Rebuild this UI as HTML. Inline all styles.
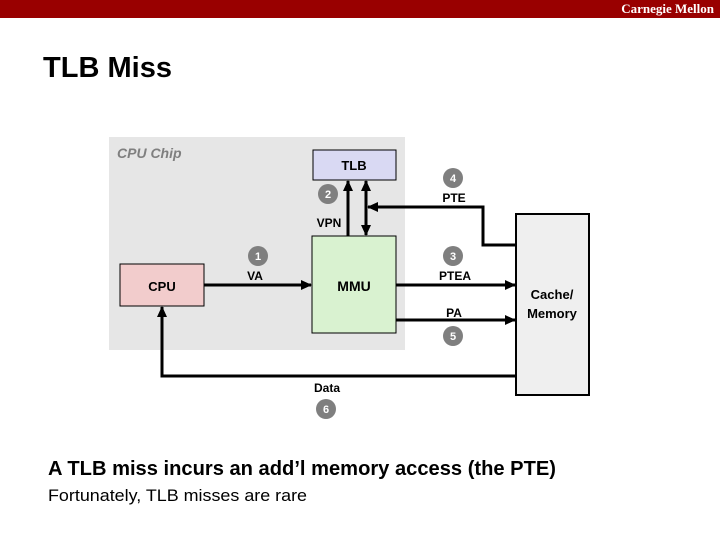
<!DOCTYPE html>
<html><head><meta charset="utf-8"><style>
html,body{margin:0;padding:0;background:#fff;width:720px;height:540px;overflow:hidden}
svg{display:block}
</style></head><body>
<svg width="720" height="540" viewBox="0 0 720 540" xmlns="http://www.w3.org/2000/svg" font-family="Liberation Sans, sans-serif">
<defs>
<marker id="ah" markerWidth="11" markerHeight="10" refX="10" refY="5" orient="auto" markerUnits="userSpaceOnUse">
<path d="M0,0 L11,5 L0,10 z" fill="#000"/>
</marker>
<marker id="ahs" markerWidth="11" markerHeight="10" refX="1" refY="5" orient="auto" markerUnits="userSpaceOnUse">
<path d="M11,0 L0,5 L11,10 z" fill="#000"/>
</marker>
</defs>
<rect x="0" y="0" width="720" height="18" fill="#990000"/>
<text x="714" y="13" style="font-family:'Liberation Serif',serif" font-size="13" font-weight="bold" fill="#fff" text-anchor="end">Carnegie Mellon</text>
<text x="43" y="77" font-size="29" font-weight="bold" textLength="129" lengthAdjust="spacingAndGlyphs">TLB Miss</text>

<rect x="109" y="137" width="296" height="213" fill="#e6e6e6"/>
<text x="117" y="158" font-size="14" font-style="italic" font-weight="bold" fill="#7f7f7f">CPU Chip</text>

<rect x="313" y="150" width="83" height="30" fill="#d9d9f3" stroke="#000" stroke-width="1"/>
<text x="354" y="170" font-size="13" font-weight="bold" text-anchor="middle">TLB</text>
<rect x="312" y="236" width="84" height="97" fill="#d9f2d0" stroke="#000" stroke-width="1"/>
<text x="354" y="291" font-size="14" font-weight="bold" text-anchor="middle">MMU</text>
<rect x="120" y="264" width="84" height="42" fill="#f2cccc" stroke="#000" stroke-width="1"/>
<text x="162" y="291" font-size="13" font-weight="bold" text-anchor="middle">CPU</text>
<rect x="516" y="214" width="73" height="181" fill="#efefef" stroke="#000" stroke-width="2"/>
<text x="552" y="299" font-size="13" font-weight="bold" text-anchor="middle">Cache/</text>
<text x="552" y="318" font-size="13" font-weight="bold" text-anchor="middle">Memory</text>

<g stroke="#000" stroke-width="3" fill="none">
<line x1="204" y1="285" x2="311" y2="285" marker-end="url(#ah)"/>
<line x1="348" y1="236" x2="348" y2="181" marker-end="url(#ah)"/>
<line x1="366" y1="181" x2="366" y2="235" marker-start="url(#ahs)" marker-end="url(#ah)"/>
<polyline points="516,245 483,245 483,207 368,207" marker-end="url(#ah)"/>
<line x1="396" y1="285" x2="515" y2="285" marker-end="url(#ah)"/>
<line x1="396" y1="320" x2="515" y2="320" marker-end="url(#ah)"/>
<polyline points="516,376 162,376 162,307" marker-end="url(#ah)"/>
</g>

<g fill="#7f7f7f">
<circle cx="258" cy="256" r="10"/><circle cx="328" cy="194" r="10"/>
<circle cx="453" cy="256" r="10"/><circle cx="453" cy="178" r="10"/>
<circle cx="453" cy="336" r="10"/><circle cx="326" cy="409" r="10"/>
</g>
<g fill="#fff" font-size="11" font-weight="bold" text-anchor="middle">
<text x="258" y="260">1</text><text x="328" y="198">2</text>
<text x="453" y="260">3</text><text x="453" y="182">4</text>
<text x="453" y="340">5</text><text x="326" y="413">6</text>
</g>
<g font-size="12" font-weight="bold" text-anchor="middle">
<text x="255" y="280">VA</text><text x="329" y="227">VPN</text>
<text x="455" y="280">PTEA</text><text x="454" y="202">PTE</text>
<text x="454" y="317">PA</text><text x="327" y="392">Data</text>
</g>

<text x="48" y="475" font-size="20" font-weight="bold" textLength="508" lengthAdjust="spacingAndGlyphs">A TLB miss incurs an add’l memory access (the PTE)</text>
<text x="48" y="501" font-size="17" textLength="259" lengthAdjust="spacingAndGlyphs">Fortunately, TLB misses are rare</text>
</svg>
</body></html>
